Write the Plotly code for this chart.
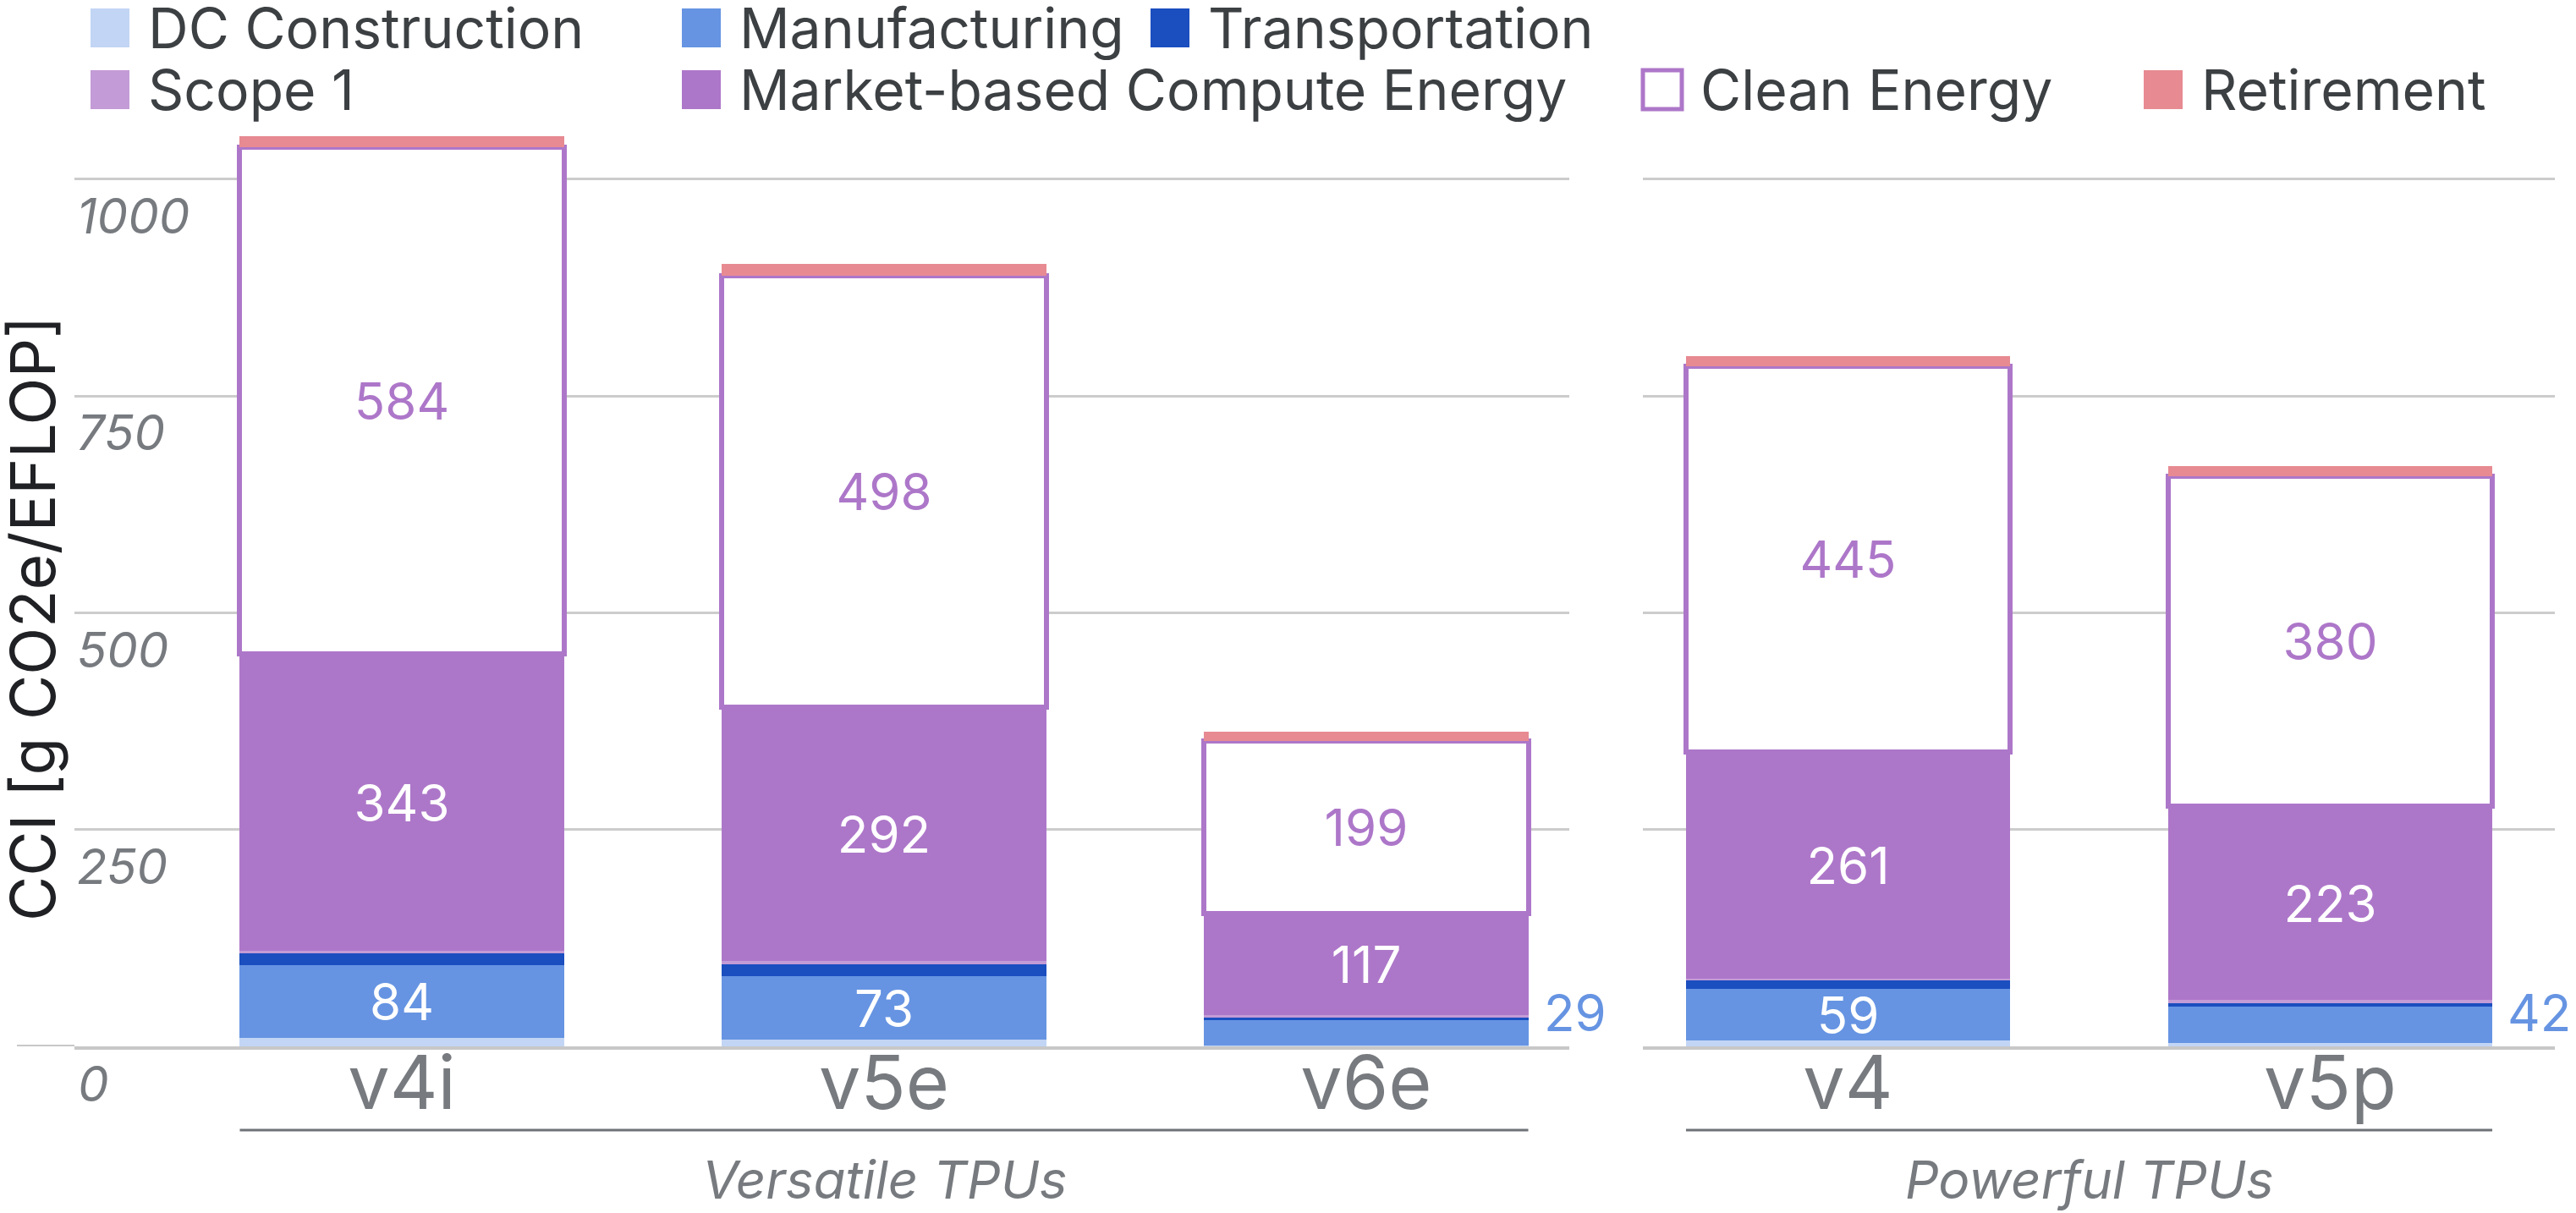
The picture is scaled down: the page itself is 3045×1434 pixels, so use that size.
import plotly.graph_objects as go

# ---------------- data ----------------
chips_left = ["v4i", "v5e", "v6e"]
chips_right = ["v4", "v5p"]
group_names = ["Versatile TPUs", "Powerful TPUs"]

series_names = ["DC Construction", "Manufacturing", "Transportation", "Scope 1",
                "Market-based Compute Energy", "Clean Energy", "Retirement"]

# order: v4i, v5e, v6e, v4, v5p
dc_construction = [10, 8, 1, 7, 4]
manufacturing = [84, 73, 29, 59, 42]
transportation = [13, 14, 3, 10, 4]
scope1 = [3, 4, 3, 2, 4]
market_energy = [343, 292, 117, 261, 223]
clean_energy = [584, 498, 199, 445, 380]
retirement = [12, 13, 11, 12, 12]

y_ticks = [0, 250, 500, 750, 1000]
y_title = "CCI [g CO2e/EFLOP]"

# ---------------- style ----------------
W, H = 3045, 1434
MT, MB = 150, 197
FONT = "Inter"
fill_colors = ["#c2d5f5", "#6694e2", "#1b4ebf", "#c39bd6", "#ad77c9", "#ffffff", "#e78a92"]
PURPLE = "#ad77c9"
BLUE = "#6694e2"
GRAY = "#777b7f"
GRID = "#cccccc"
BAR_W = 0.672
PX_PER_UNIT = 1.0253

series_values = [dc_construction, manufacturing, transportation, scope1,
                 market_energy, clean_energy, retirement]
labelled = {1: "#ffffff", 4: "#ffffff", 5: PURPLE}

plot_h = H - MT - MB
y_max = plot_h / PX_PER_UNIT

left_dom = (88, 1855)
right_dom = (1942, 3020)
px_per_cat = 570.0
left_range = [-387 / px_per_cat, -387 / px_per_cat + (left_dom[1] - left_dom[0]) / px_per_cat]
right_range = [-242.5 / px_per_cat, -242.5 / px_per_cat + (right_dom[1] - right_dom[0]) / px_per_cat]

def px_x(px):
    return px / W

def px_y(py):
    return (H - MB - py) / plot_h

fig = go.Figure()
n_left = len(chips_left)
outside = []
for si, (name, vals) in enumerate(zip(series_names, series_values)):
    for side in (0, 1):
        if side == 0:
            xs, vs, xa, ya = chips_left, vals[:n_left], "x", "y"
        else:
            xs, vs, xa, ya = chips_right, vals[n_left:], "x2", "y2"
        texts = []
        for ci, v in enumerate(vs):
            if si in labelled:
                if v * PX_PER_UNIT >= 50:
                    texts.append(str(v))
                else:
                    texts.append("")
                    outside.append((xa, ya, ci, v))
            else:
                texts.append("")
        fig.add_trace(go.Bar(
            x=xs, y=vs, name=name, xaxis=xa, yaxis=ya, width=BAR_W,
            marker=dict(color=fill_colors[si],
                        line=dict(color=PURPLE if si == 5 else fill_colors[si],
                                  width=6 if si == 5 else 0)),
            text=texts, textposition="inside", insidetextanchor="middle",
            textangle=0, constraintext="none",
            textfont=dict(family=FONT, size=60, color=labelled.get(si, "#ffffff")),
            showlegend=False, hoverinfo="skip",
        ))

fig.update_layout(
    width=W, height=H, barmode="stack",
    margin=dict(l=0, r=0, t=MT, b=MB),
    paper_bgcolor="white", plot_bgcolor="white",
    font=dict(family=FONT),
    bargap=0,
)

axis_x_common = dict(showgrid=False, showline=True, linecolor="#c8c8c8", linewidth=4,
                     ticks="", tickfont=dict(family=FONT, size=88, color=GRAY),
                     zeroline=False, fixedrange=True, ticklabelstandoff=-36)
fig.update_layout(
    xaxis=dict(domain=[px_x(left_dom[0]), px_x(left_dom[1])], range=left_range,
               anchor="y", **axis_x_common),
    xaxis2=dict(domain=[px_x(right_dom[0]), px_x(right_dom[1])], range=right_range,
                anchor="y2", **axis_x_common),
    yaxis=dict(domain=[0, 1], range=[0, y_max], tickvals=y_ticks,
               showgrid=True, gridcolor=GRID, gridwidth=3, zeroline=False,
               ticklabelposition="inside", ticklabelshift=44,
               tickfont=dict(family=FONT, size=58, color=GRAY, style="italic"),
               ticks="", anchor="x"),
    yaxis2=dict(domain=[0, 1], matches="y", range=[0, y_max], tickvals=y_ticks,
                showgrid=True, gridcolor=GRID, gridwidth=3, zeroline=False,
                showticklabels=False, ticks="", anchor="x2"),
)

shapes = []
annotations = []

# baseline extension to the left
shapes.append(dict(type="line", xref="paper", yref="y", x0=px_x(20), x1=px_x(left_dom[0]),
                   y0=0, y1=0, line=dict(color="#c8c8c8", width=4)))

# the "0" tick label falls below the plot area, so it is written as an annotation
annotations.append(dict(xref="paper", yref="y", x=px_x(left_dom[0] + 2), y=y_ticks[0],
                        yshift=-44, text=str(y_ticks[0]), showarrow=False,
                        xanchor="left", yanchor="middle",
                        font=dict(family=FONT, size=58, color=GRAY, style="italic")))

# group brackets and labels
half = BAR_W / 2
for xa, cats, gname in (("x", chips_left, group_names[0]), ("x2", chips_right, group_names[1])):
    shapes.append(dict(type="line", xref=xa, yref="paper", x0=-half, x1=len(cats) - 1 + half,
                       y0=px_y(1336), y1=px_y(1336), line=dict(color="#6f7377", width=3)))
    annotations.append(dict(xref=xa, yref="paper", x=(len(cats) - 1) / 2, y=px_y(1394),
                            text=gname, showarrow=False, xanchor="center", yanchor="middle",
                            font=dict(family=FONT, size=62, color=GRAY, style="italic")))

# outside labels for thin manufacturing segments
for xa, ya, ci, v in outside:
    annotations.append(dict(xref=xa, yref=ya, x=ci, y=0, text=str(v), showarrow=False,
                            xanchor="left", yanchor="bottom",
                            xshift=half * px_per_cat + 16, yshift=2,
                            font=dict(family=FONT, size=60, color=BLUE)))

# y axis title
annotations.append(dict(xref="paper", yref="paper", x=px_x(38), y=px_y(731), text=y_title,
                        textangle=-90, showarrow=False, xanchor="center", yanchor="middle",
                        font=dict(family=FONT, size=73, color="#202124")))

# legend (manual, large swatches)
legend_pos = [(107, 33), (806, 33), (1360, 33), (107, 106), (806, 106), (1942, 106), (2534, 106)]
SW = 46
for si, (name, (lx, ly)) in enumerate(zip(series_names, legend_pos)):
    shapes.append(dict(type="rect", xref="paper", yref="paper",
                       x0=px_x(lx), x1=px_x(lx + SW), y0=px_y(ly + SW / 2), y1=px_y(ly - SW / 2),
                       fillcolor=fill_colors[si],
                       line=dict(color=PURPLE if si == 5 else fill_colors[si], width=5 if si == 5 else 0)))
    annotations.append(dict(xref="paper", yref="paper", x=px_x(lx + SW + 20), y=px_y(ly),
                            text=name, showarrow=False, xanchor="left", yanchor="middle",
                            font=dict(family=FONT, size=66, color="#3c4043")))

fig.update_layout(shapes=shapes, annotations=annotations)

fig.write_html("out.html", config={"displayModeBar": False},
               post_script="document.body.style.margin='0';")
